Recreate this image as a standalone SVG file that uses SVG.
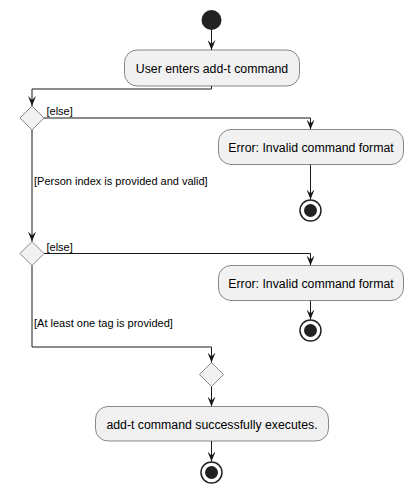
<svg xmlns="http://www.w3.org/2000/svg" width="413" height="493" viewBox="0 0 413 493">
<style>
.act{fill:#F1F1F1;stroke:#181818;stroke-width:0.5}
.dia{fill:#F1F1F1;stroke:#181818;stroke-width:0.5}
.lbl{font-family:"Liberation Sans",Arial,sans-serif;font-size:12.3px;fill:#000;text-anchor:middle}
.grd{font-family:"Liberation Sans",Arial,sans-serif;font-size:11px;fill:#000}
.ln{fill:none;stroke:#181818;stroke-width:1}
.start{fill:#222222}
.endo{fill:none;stroke:#222222;stroke-width:1.5}
.endi{fill:#222222}
</style>
<defs>
<marker id="ah" markerWidth="10" markerHeight="8" refX="10" refY="4" orient="auto" markerUnits="userSpaceOnUse">
<path d="M0,0 L10,4 L0,8 L4,4 Z" fill="#181818"/>
</marker>
</defs>
<rect width="413" height="493" fill="#FFFFFF"/>
<g id="connectors">
<path class="ln" d="M211.5,30 L211.5,50" marker-end="url(#ah)"/>
<path class="ln" d="M211.5,86 L211.5,89 L32,89 L32,106" marker-end="url(#ah)"/>
<path class="ln" d="M44,118 L310.5,118 L310.5,129.5" marker-end="url(#ah)"/>
<path class="ln" d="M310.5,164.5 L310.5,199.5" marker-end="url(#ah)"/>
<path class="ln" d="M32,130 L32,241.5" marker-end="url(#ah)"/>
<path class="ln" d="M44,253.5 L310.5,253.5 L310.5,265.5" marker-end="url(#ah)"/>
<path class="ln" d="M310.5,300.5 L310.5,319.5" marker-end="url(#ah)"/>
<path class="ln" d="M32,265.5 L32,347 L211.5,347 L211.5,362.5" marker-end="url(#ah)"/>
<path class="ln" d="M211.5,386.5 L211.5,406.5" marker-end="url(#ah)"/>
<path class="ln" d="M211.5,441 L211.5,461.5" marker-end="url(#ah)"/>
<text class="grd" x="46.5" y="115">[else]</text>
<text class="grd" x="34" y="185">[Person index is provided and valid]</text>
<text class="grd" x="46.5" y="251">[else]</text>
<text class="grd" x="34" y="327">[At least one tag is provided]</text>
</g>
<g id="start"><circle class="start" cx="211.5" cy="20" r="10"/></g>
<g id="enter">
<rect class="act" x="124.5" y="50" width="175" height="36" rx="12.5"/>
<text class="lbl" x="212" y="72.5">User enters add-t command</text>
</g>
<g id="decision1"><polygon class="dia" points="20,118 32,106 44,118 32,130"/></g>
<g id="error1">
<rect class="act" x="218.5" y="129.5" width="185" height="35" rx="12.5"/>
<text class="lbl" x="311" y="151.5">Error: Invalid command format</text>
</g>
<g id="end1"><circle class="endo" cx="310.5" cy="210.5" r="10.5"/><circle class="endi" cx="310.5" cy="210.5" r="6.5"/></g>
<g id="decision2"><polygon class="dia" points="20,253.5 32,241.5 44,253.5 32,265.5"/></g>
<g id="error2">
<rect class="act" x="218.5" y="265.5" width="185" height="35" rx="12.5"/>
<text class="lbl" x="311" y="287.5">Error: Invalid command format</text>
</g>
<g id="end2"><circle class="endo" cx="310.5" cy="330.5" r="10.5"/><circle class="endi" cx="310.5" cy="330.5" r="6.5"/></g>
<g id="merge"><polygon class="dia" points="199.5,374.5 211.5,362.5 223.5,374.5 211.5,386.5"/></g>
<g id="success">
<rect class="act" x="95.5" y="406.5" width="233" height="34.5" rx="12.5"/>
<text class="lbl" x="212" y="428.5">add-t command successfully executes.</text>
</g>
<g id="end3"><circle class="endo" cx="211.5" cy="472.5" r="10.5"/><circle class="endi" cx="211.5" cy="472.5" r="6.5"/></g>
</svg>
